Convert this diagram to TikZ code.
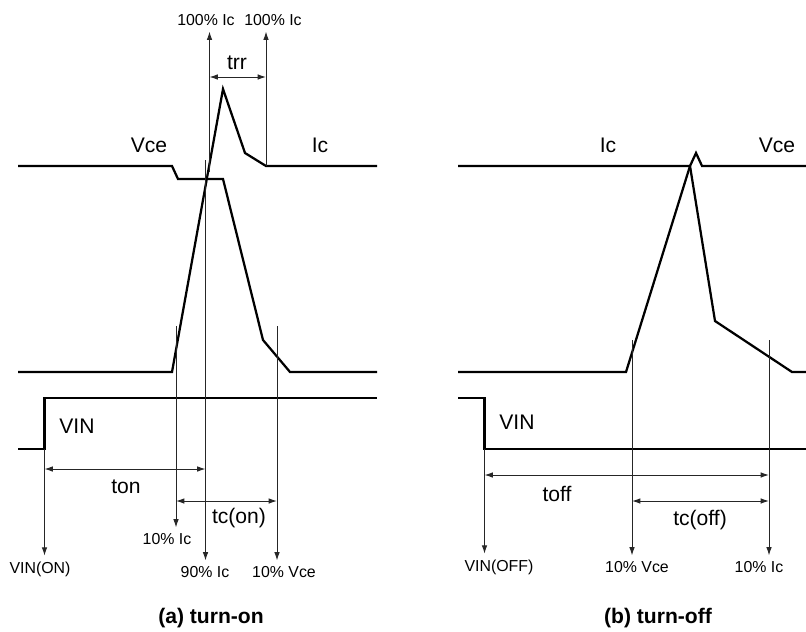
\documentclass[tikz,border=0pt]{standalone}
\usepackage{fontspec}
\setmainfont{Liberation Sans}
\usepackage{tikz}
\usetikzlibrary{arrows.meta}
\tikzstyle{wave} = [line width=1.6pt, line join=miter]
\tikzstyle{marker} = [line width=0.7pt, draw=black!85, -{Latex[length=6pt,width=4pt]}]
\tikzstyle{span} = [line width=0.7pt, draw=black!85, {Latex[length=6pt,width=4pt]}-{Latex[length=6pt,width=4pt]}]
\tikzstyle{smalltext} = [font=\fontsize{11.3}{13}\selectfont, inner sep=4pt]
\tikzstyle{bigtext} = [font=\fontsize{15}{18}\selectfont, inner sep=2pt]
\tikzstyle{figcap} = [font=\fontsize{15}{18}\selectfont\bfseries]

\begin{document}
\begin{tikzpicture}[x=0.025cm, y=-0.025cm]
		\useasboundingbox (0,0) rectangle (806,631);
		\draw [wave] (18,166) -- (172,166) -- (178,179) -- (223,179) -- (263,340) -- (290,372) -- (377,372);
		\draw [wave] (18,372) -- (172,372) -- (223,89) -- (245,153) -- (266,166) -- (377,166);
		\draw [wave] (18,449) -- (44.5,449) -- (44.5,398) -- (377,398);
		\draw [wave] (458,166) -- (690,166) -- (715,321) -- (792,372) -- (806,372);
		\draw [wave] (458,372) -- (626,372) -- (690,166) -- (696,153) -- (702,166) -- (806,166);
		\draw [wave] (458,398) -- (484.5,398) -- (484.5,449) -- (806,449);
		\node (vceOn) [bigtext] at (149,145) {Vce};
		\node (icOn) [bigtext] at (320,145) {Ic};
		\node (vinOn) [bigtext] at (77,426) {VIN};
		\coordinate (onStart) at (44.5,449);
		\coordinate (onIcTen) at (176,326);
		\coordinate (onIcNinety) at (205.5,160);
		\coordinate (onVceTen) at (277,326);
		\coordinate (onIcFullA) at (209.5,172);
		\coordinate (onIcFullB) at (266,166);
		\node (lOnStart) [smalltext] at (40,569) {VIN(ON)};
		\node (lOnIcTen) [smalltext] at (167,539) {10\% Ic};
		\node (lOnIcNinety) [smalltext] at (205,572) {90\% Ic};
		\node (lOnVceTen) [smalltext] at (284,572) {10\% Vce};
		\node (lOnIcFullA) [smalltext] at (206,20) {100\% Ic};
		\node (lOnIcFullB) [smalltext] at (273,20) {100\% Ic};
		\draw [marker](onStart) -- (onStart |- lOnStart.north);
		\draw [marker](onIcTen) -- (onIcTen |- lOnIcTen.north);
		\draw [marker](onIcNinety) -- (onIcNinety |- lOnIcNinety.north);
		\draw [marker](onVceTen) -- (onVceTen |- lOnVceTen.north);
		\draw [marker](onIcFullA) -- (onIcFullA |- lOnIcFullA.south);
		\draw [marker](onIcFullB) -- (onIcFullB |- lOnIcFullB.south);
		\coordinate (trrRow) at (0,77);
		\coordinate (tonRow) at (0,469);
		\coordinate (tcOnRow) at (0,501);
		\draw [span](onIcFullA |- trrRow) -- (onIcFullB |- trrRow);
		\draw [span](onStart |- tonRow) -- (onIcNinety |- tonRow);
		\draw [span](onIcTen |- tcOnRow) -- (onVceTen |- tcOnRow);
		\node (trr) [bigtext] at (237,63) {trr};
		\node (ton) [bigtext] at (126,487) {ton};
		\node (tcOn) [bigtext] at (239,518) {tc(on)};
		\node (capOn) [figcap] at (211,618) {(a) turn-on};
		\node (icOff) [bigtext] at (608,145) {Ic};
		\node (vceOff) [bigtext] at (777,145) {Vce};
		\node (vinOff) [bigtext] at (517,422) {VIN};
		\coordinate (offStart) at (484.5,449);
		\coordinate (offVceTen) at (632,340);
		\coordinate (offIcTen) at (769,340);
		\node (lOffStart) [smalltext] at (499,567) {VIN(OFF)};
		\node (lOffVceTen) [smalltext] at (637,567) {10\% Vce};
		\node (lOffIcTen) [smalltext] at (759,567) {10\% Ic};
		\draw [marker](offStart) -- (offStart |- lOffStart.north);
		\draw [marker](offVceTen) -- (offVceTen |- lOffVceTen.north);
		\draw [marker](offIcTen) -- (offIcTen |- lOffIcTen.north);
		\coordinate (toffRow) at (0,475);
		\coordinate (tcOffRow) at (0,501);
		\draw [span](offStart |- toffRow) -- (offIcTen |- toffRow);
		\draw [span](offVceTen |- tcOffRow) -- (offIcTen |- tcOffRow);
		\node (toff) [bigtext] at (557,494) {toff};
		\node (tcOff) [bigtext] at (700,520) {tc(off)};
		\node (capOff) [figcap] at (658,618) {(b) turn-off};
	\end{tikzpicture}
\end{document}
